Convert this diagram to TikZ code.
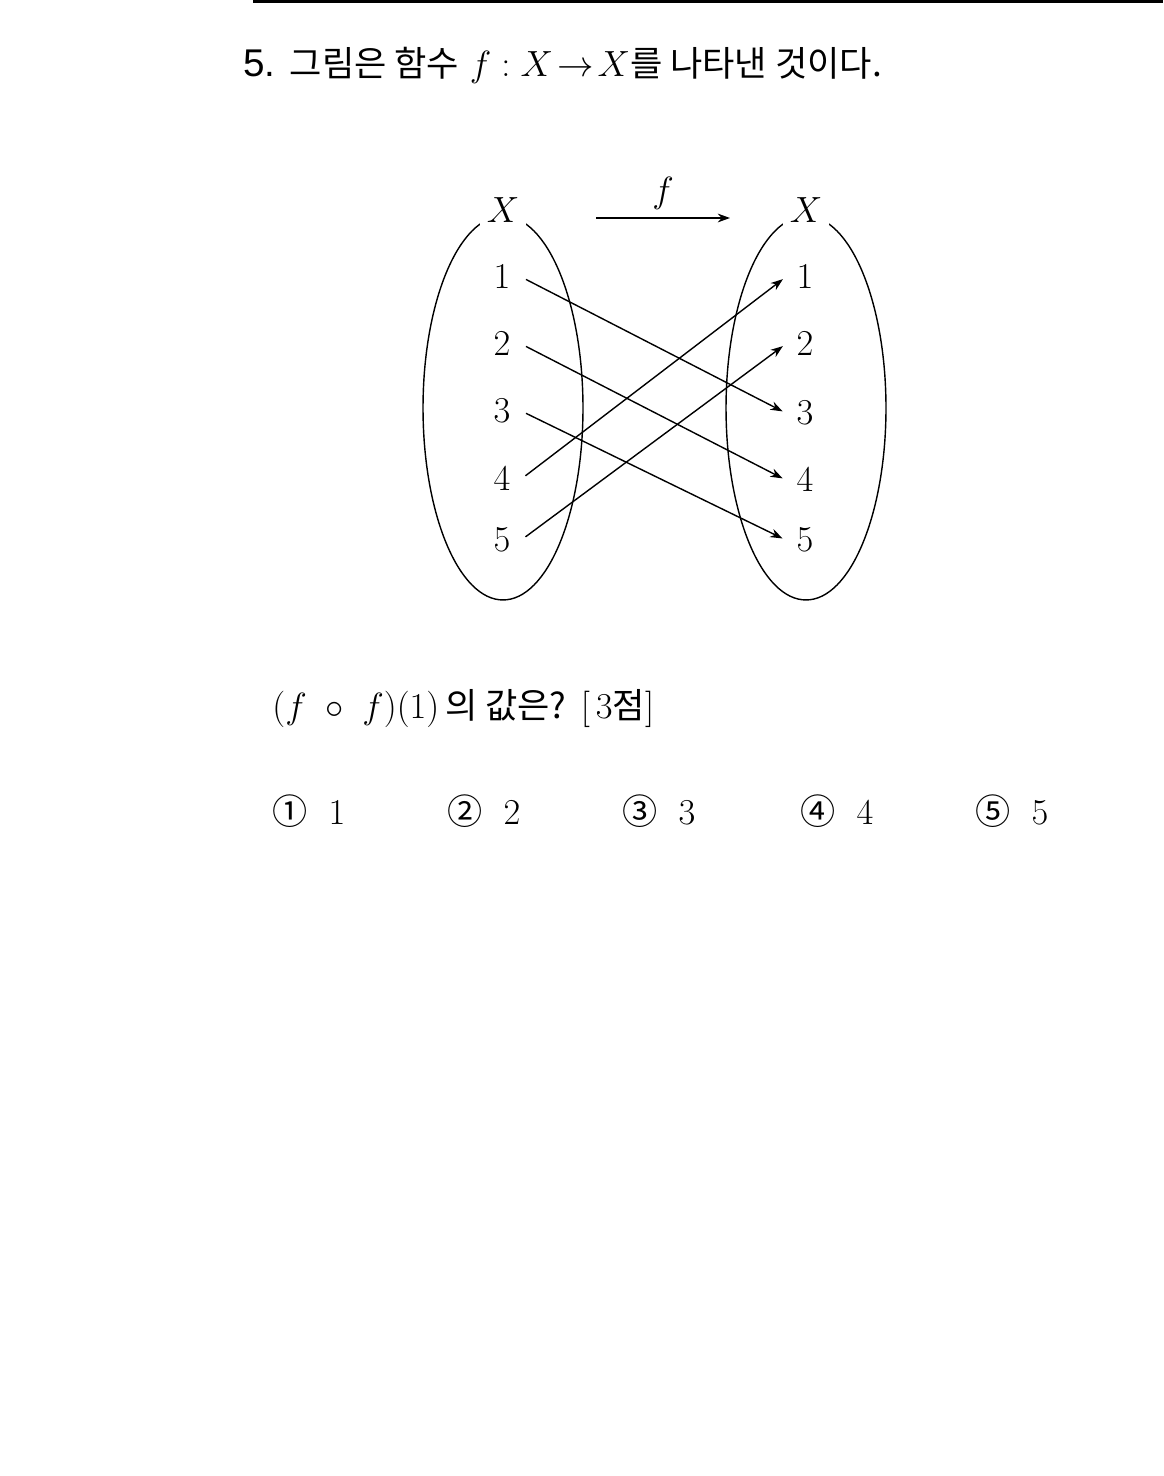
\documentclass[tikz,border=0pt]{standalone}
\usepackage{fontspec}
\usepackage{amsmath}
\usetikzlibrary{arrows.meta,positioning}
\newfontfamily\kr{Noto Sans CJK KR}
\newfontfamily\numsans{Liberation Sans}
\tikzset{
  elem/.style={font=\fontsize{19.5}{23}\selectfont, inner sep=6pt},
  setname/.style={font=\fontsize{19.5}{23}\selectfont, fill=white, inner sep=4pt},
  maparr/.style={-{Stealth[length=7pt,width=5pt]}, line width=0.8pt,
                 shorten <=3pt, shorten >=2pt},
  setell/.style={line width=0.8pt},
  txt/.style={font=\fontsize{20}{24}\selectfont, inner sep=0pt, anchor=base west},
}
\begin{document}
\begin{tikzpicture}[x=0.02cm, y=-0.02cm]
  \useasboundingbox (0,0) rectangle (1163,1476);
  % top rule
  \draw[line width=2pt] (253,1) -- (1163,1);
  % title
  \node[txt] (title) at (243,77) {{\numsans\fontsize{22}{24}\selectfont 5.} {\kr 그림은 함수} $f:X\!\to\!X${\kr 를 나타낸 것이다.}};

  % Sets
  \draw[setell] (503,408) ellipse [x radius=1.6cm, y radius=3.84cm];
  \draw[setell] (806,408) ellipse [x radius=1.6cm, y radius=3.84cm];
  \node[setname] (xl) at (503,210) {$X$};
  \node[setname] (xr) at (806,210) {$X$};

  % f arrow
  \coordinate (fa) at (596,218);
  \coordinate (fb) at (730,218);
  \draw[-{Stealth[length=7pt,width=5pt]}, line width=0.8pt] (fa) -- node[above=1pt, font=\fontsize{19.5}{23}\selectfont] (flbl) {$f$} (fb);

  % Left set
  \node[elem] (l1) at (502,277) {$1$};
  \node[elem] (l2) at (502,344) {$2$};
  \node[elem] (l3) at (502,411) {$3$};
  \node[elem] (l4) at (502,479) {$4$};
  \node[elem] (l5) at (502,540) {$5$};

  % Right set
  \node[elem] (r1) at (805,277) {$1$};
  \node[elem] (r2) at (805,344) {$2$};
  \node[elem] (r3) at (805,413) {$3$};
  \node[elem] (r4) at (805,480) {$4$};
  \node[elem] (r5) at (805,540) {$5$};

  % Mapping
  \draw[maparr] (l1.east) -- (r3.west);
  \draw[maparr] (l2.east) -- (r4.west);
  \draw[maparr] (l3.east) -- (r5.west);
  \draw[maparr] (l4.east) -- (r1.west);
  \draw[maparr] (l5.east) -- (r2.west);

  % Question
  \node[txt] (q) at (272,718) {$(f\ \circ\ f)(1)$\,{\kr 의 값은?} $[\,3${\kr 점}$]$};

  % Choices
  \node[txt] (c1) at (272,824) {{\kr ①}\ \ $1$};
  \node[txt] (c2) at (447,824) {{\kr ②}\ \ $2$};
  \node[txt] (c3) at (622,824) {{\kr ③}\ \ $3$};
  \node[txt] (c4) at (800,824) {{\kr ④}\ \ $4$};
  \node[txt] (c5) at (975,824) {{\kr ⑤}\ \ $5$};
\end{tikzpicture}
\end{document}
